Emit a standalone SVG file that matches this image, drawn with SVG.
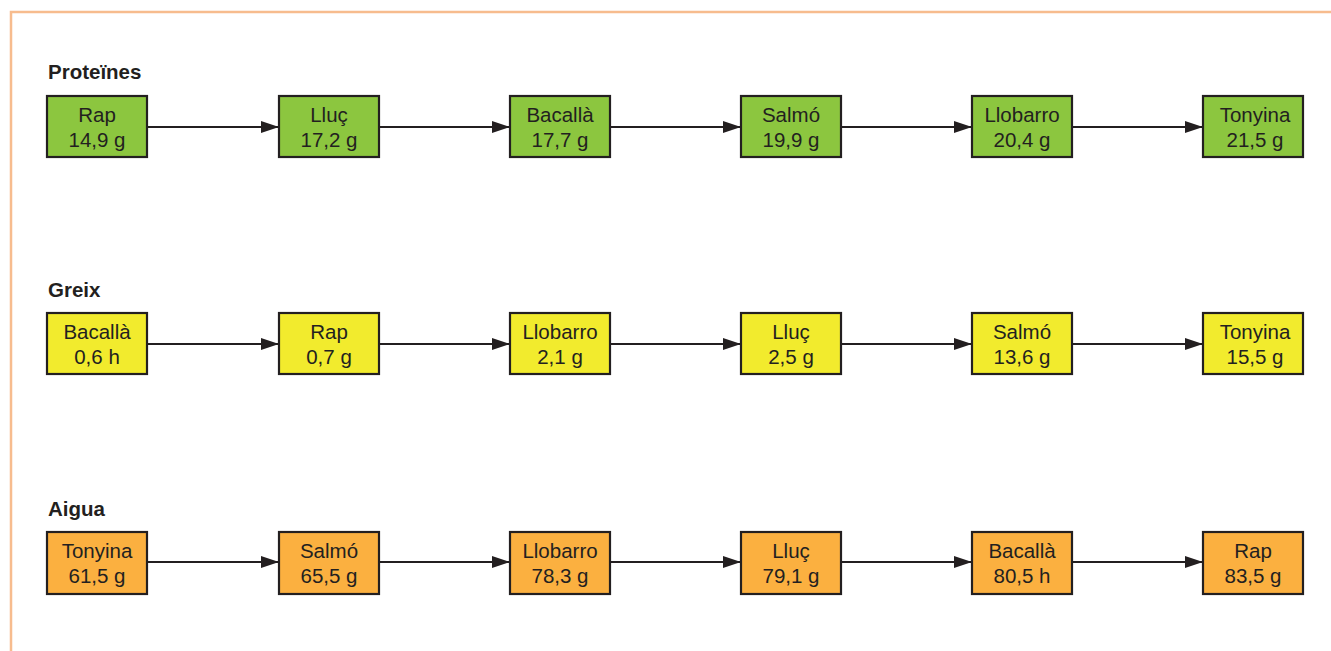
<svg xmlns="http://www.w3.org/2000/svg" width="1331" height="651" viewBox="0 0 1331 651">
<defs>
<style>
.frame{fill:none;stroke:#F7BC8E;stroke-width:2.5}
.box rect{stroke:#231F20;stroke-width:2.2}
.g rect{fill:#8CC63F}
.y rect{fill:#F2EB2D}
.o rect{fill:#FBB040}
.box text{font-family:"Liberation Sans",Arial,sans-serif;font-size:20.5px;fill:#231F20;text-anchor:middle}
.title{font-family:"Liberation Sans",Arial,sans-serif;font-size:20.5px;font-weight:bold;fill:#231F20}
.conn line{stroke:#231F20;stroke-width:2;marker-end:url(#arr)}
</style>
<marker id="arr" markerWidth="20" markerHeight="12" refX="18" refY="6" orient="auto" markerUnits="userSpaceOnUse">
<path d="M0,0 L18,6 L0,12 Z" fill="#231F20"/>
</marker>
</defs>
<rect width="1331" height="651" fill="#fff"/>
<path class="frame" d="M11,651 V12 H1331"/>
<text class="title" x="48" y="79">Proteïnes</text>
<text class="title" x="48" y="297">Greix</text>
<text class="title" x="48" y="516">Aigua</text>
<g class="conn">
<line x1="147" y1="127" x2="279" y2="127"/><line x1="379" y1="127" x2="510" y2="127"/><line x1="610" y1="127" x2="741" y2="127"/><line x1="841" y1="127" x2="972" y2="127"/><line x1="1072" y1="127" x2="1203" y2="127"/>
<line x1="147" y1="344" x2="279" y2="344"/><line x1="379" y1="344" x2="510" y2="344"/><line x1="610" y1="344" x2="741" y2="344"/><line x1="841" y1="344" x2="972" y2="344"/><line x1="1072" y1="344" x2="1203" y2="344"/>
<line x1="147" y1="562" x2="279" y2="562"/><line x1="379" y1="562" x2="510" y2="562"/><line x1="610" y1="562" x2="741" y2="562"/><line x1="841" y1="562" x2="972" y2="562"/><line x1="1072" y1="562" x2="1203" y2="562"/>
</g>
<g id="p1" class="box g"><rect x="47" y="96" width="100" height="61"/><text x="97" y="122">Rap</text><text x="97" y="147">14,9 g</text></g>
<g id="p2" class="box g"><rect x="279" y="96" width="100" height="61"/><text x="329" y="122">Lluç</text><text x="329" y="147">17,2 g</text></g>
<g id="p3" class="box g"><rect x="510" y="96" width="100" height="61"/><text x="560" y="122">Bacallà</text><text x="560" y="147">17,7 g</text></g>
<g id="p4" class="box g"><rect x="741" y="96" width="100" height="61"/><text x="791" y="122">Salmó</text><text x="791" y="147">19,9 g</text></g>
<g id="p5" class="box g"><rect x="972" y="96" width="100" height="61"/><text x="1022" y="122">Llobarro</text><text x="1022" y="147">20,4 g</text></g>
<g id="p6" class="box g"><rect x="1203" y="96" width="100" height="61"/><text x="1255" y="122">Tonyina</text><text x="1255" y="147">21,5 g</text></g>
<g id="g1" class="box y"><rect x="47" y="313" width="100" height="61"/><text x="97" y="339">Bacallà</text><text x="97" y="364">0,6 h</text></g>
<g id="g2" class="box y"><rect x="279" y="313" width="100" height="61"/><text x="329" y="339">Rap</text><text x="329" y="364">0,7 g</text></g>
<g id="g3" class="box y"><rect x="510" y="313" width="100" height="61"/><text x="560" y="339">Llobarro</text><text x="560" y="364">2,1 g</text></g>
<g id="g4" class="box y"><rect x="741" y="313" width="100" height="61"/><text x="791" y="339">Lluç</text><text x="791" y="364">2,5 g</text></g>
<g id="g5" class="box y"><rect x="972" y="313" width="100" height="61"/><text x="1022" y="339">Salmó</text><text x="1022" y="364">13,6 g</text></g>
<g id="g6" class="box y"><rect x="1203" y="313" width="100" height="61"/><text x="1255" y="339">Tonyina</text><text x="1255" y="364">15,5 g</text></g>
<g id="a1" class="box o"><rect x="47" y="532" width="100" height="62"/><text x="97" y="558">Tonyina</text><text x="97" y="583">61,5 g</text></g>
<g id="a2" class="box o"><rect x="279" y="532" width="100" height="62"/><text x="329" y="558">Salmó</text><text x="329" y="583">65,5 g</text></g>
<g id="a3" class="box o"><rect x="510" y="532" width="100" height="62"/><text x="560" y="558">Llobarro</text><text x="560" y="583">78,3 g</text></g>
<g id="a4" class="box o"><rect x="741" y="532" width="100" height="62"/><text x="791" y="558">Lluç</text><text x="791" y="583">79,1 g</text></g>
<g id="a5" class="box o"><rect x="972" y="532" width="100" height="62"/><text x="1022" y="558">Bacallà</text><text x="1022" y="583">80,5 h</text></g>
<g id="a6" class="box o"><rect x="1203" y="532" width="100" height="62"/><text x="1253" y="558">Rap</text><text x="1253" y="583">83,5 g</text></g>
</svg>
